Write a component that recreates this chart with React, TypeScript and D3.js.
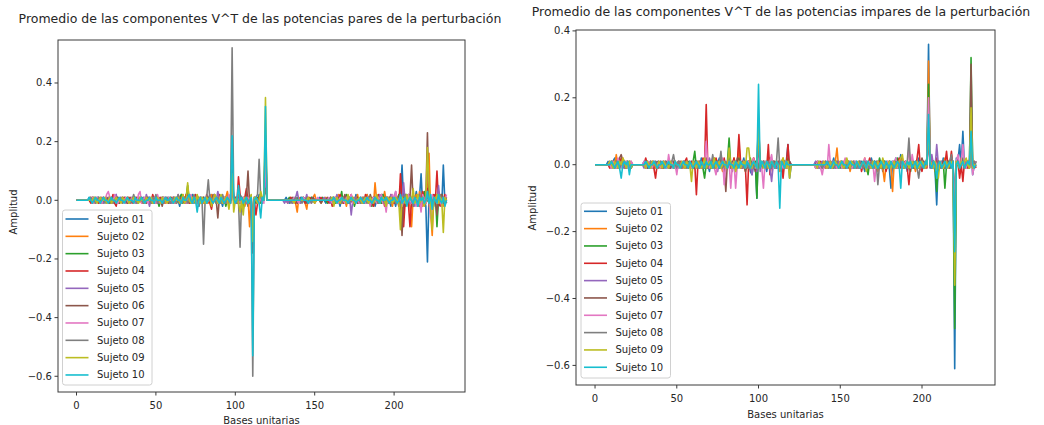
import React from "react";
import * as d3 from "d3";

// Axis ticks and legend entries
const X_TICKS = [0, 50, 100, 150, 200];
const Y_TICKS = [-0.6, -0.4, -0.2, 0, 0.2, 0.4];
const SUJETOS = ["Sujeto 01", "Sujeto 02", "Sujeto 03", "Sujeto 04", "Sujeto 05", "Sujeto 06", "Sujeto 07", "Sujeto 08", "Sujeto 09", "Sujeto 10"];
const COLORES = ["#1f77b4", "#ff7f0e", "#2ca02c", "#d62728", "#9467bd", "#8c564b", "#e377c2", "#7f7f7f", "#bcbd22", "#17becf"];

// Mean V^T components, in hundredths of amplitude, one value per unit base (0..233)
// Even powers
const PARES_01 = [
  0,0,0,0,0,0,0,0,1,0,-1,1,0,0,1,-1,0,0,1,0,
  0,-1,1,0,0,1,-1,0,0,0,1,0,-1,0,0,1,0,0,-1,1,
  0,0,1,-1,0,0,1,0,0,-1,0,1,0,0,-1,1,0,0,1,0,
  -1,0,1,0,0,-2,1,0,1,0,4,-1,0,2,-1,0,1,-2,0,1,
  0,-1,1,0,2,-1,0,1,0,-1,1,0,-2,1,0,1,-1,0,8,1,
  0,1,-1,2,0,-1,1,0,-2,1,0,-10,1,0,-1,2,0,-1,1,12,
  0,0,0,0,0,0,0,0,0,0,0,0,1,0,-1,0,0,1,0,-1,
  0,1,0,0,-1,1,0,0,1,0,0,0,0,1,0,0,0,-1,0,0,
  1,0,-1,0,1,0,-2,1,0,0,1,-1,0,1,0,-1,2,0,-1,0,
  1,0,-1,2,0,-1,0,1,-2,0,1,0,-1,2,0,-1,1,0,-2,1,
  0,-2,1,0,2,12,-1,0,2,-1,0,1,-2,0,3,-1,1,9,-2,1,
  -2,-21,2,0,-3,1,2,-1,3,0,-2,12,-1,0,
];
const PARES_02 = [
  0,0,0,0,0,0,0,0,0,1,0,-1,1,0,0,-1,1,0,0,-1,
  1,0,0,-1,1,0,0,-1,0,1,0,0,-1,1,0,0,-1,0,1,0,
  0,-1,0,1,0,0,-1,1,0,0,1,-1,0,0,1,0,-1,0,0,1,
  0,1,-1,0,1,0,-1,2,0,-1,2,0,1,-1,0,1,0,-1,1,0,
  -1,0,1,-1,0,2,-1,0,1,0,-1,1,0,-1,1,3,0,-1,5,1,
  -1,0,2,-1,0,1,-2,0,1,-9,1,-15,0,1,-1,0,2,0,1,20,
  0,0,0,0,0,0,0,0,0,0,0,0,0,-1,0,1,0,0,-1,-4,
  1,0,0,1,-1,-3,1,0,0,1,2,0,0,0,-1,0,0,1,0,0,
  0,-1,1,0,-1,2,0,-1,1,0,-2,1,0,0,1,-1,0,2,-1,0,
  1,-1,0,2,-1,0,1,-2,6,0,-1,1,0,-1,3,0,-1,1,0,-2,
  1,0,-1,2,0,-3,1,2,-1,0,-2,-9,1,0,2,-1,3,0,-2,1,
  0,2,16,-4,-12,1,0,2,-1,0,1,-2,1,0,
];
const PARES_03 = [
  0,0,0,0,0,0,0,0,0,0,1,0,-1,0,1,0,0,-1,0,1,
  0,0,-1,1,0,0,1,-1,0,0,0,1,0,-1,0,0,1,0,0,-1,
  1,0,0,-1,0,1,0,0,-1,1,0,0,-2,0,1,0,0,1,-1,0,
  0,1,0,-1,0,1,2,-1,0,1,5,0,-1,1,0,-1,0,1,0,-1,
  1,0,-1,0,1,-1,0,2,-1,0,1,-1,0,1,-2,0,1,0,10,0,
  -1,1,0,-1,1,-3,0,1,-1,0,1,-8,0,-1,1,0,-1,1,0,18,
  0,0,0,0,0,0,0,0,0,0,0,0,0,0,1,0,-1,0,0,1,
  0,-1,0,1,0,0,-1,0,1,0,0,0,0,0,0,1,0,0,-1,0,
  0,1,0,-1,1,0,0,3,-1,0,2,0,-1,0,1,-2,0,1,0,-1,
  0,1,-1,0,1,0,-2,1,0,-1,1,0,-1,2,0,-1,0,1,-1,0,
  1,-1,0,2,-1,1,0,-2,1,0,1,-1,2,0,-1,1,0,-2,1,3,
  -1,0,2,-1,1,0,2,-9,1,0,2,-1,0,1,
];
const PARES_04 = [
  0,0,0,0,0,0,0,0,0,-1,1,0,0,1,-1,0,0,1,0,0,
  -1,1,0,2,-1,-2,1,0,0,-1,1,0,0,1,0,-1,0,0,1,0,
  0,1,-1,0,0,1,0,-1,2,0,-1,0,0,1,0,-1,1,0,0,-1,
  1,0,-1,1,0,-1,1,0,-1,2,1,-1,0,1,0,2,-1,0,1,0,
  0,-1,2,0,-1,-3,0,1,0,-1,2,0,-1,0,1,0,-1,1,6,0,
  1,-1,8,2,0,-1,1,4,0,1,-4,-12,0,-5,-1,1,0,1,0,15,
  0,0,0,0,0,0,0,0,0,0,0,0,0,0,0,1,0,0,-1,0,
  0,0,1,0,-1,0,0,1,0,0,-1,0,0,0,1,0,0,0,0,-1,
  1,-2,0,1,0,-1,2,0,-1,0,1,-1,0,2,-1,0,0,1,-1,0,
  0,-1,2,0,-1,1,0,-2,1,0,2,-1,0,1,-2,0,1,-1,2,0,
  -1,1,0,-2,9,1,-9,0,1,-1,-9,0,2,-1,0,1,-2,0,3,-1,
  1,4,-1,0,-3,2,0,10,-1,-2,1,0,2,-1,
];
const PARES_05 = [
  0,0,0,0,0,0,0,0,0,1,0,0,-1,1,0,0,1,-1,0,0,
  1,0,-1,0,1,2,-1,0,1,0,0,-1,1,0,0,1,0,-1,0,1,
  0,0,1,-1,2,0,-2,1,0,0,1,0,-1,0,1,-1,0,1,0,0,
  -1,1,0,0,1,-1,0,1,0,-1,0,1,-1,0,1,0,0,-1,1,0,
  0,1,-1,0,1,0,-1,1,0,3,0,-1,1,0,-1,1,0,0,4,1,
  0,-1,1,0,-1,1,0,-1,1,0,1,-6,0,1,-1,0,1,-1,0,10,
  0,0,0,0,0,0,0,0,0,0,0,-1,0,-1,0,0,-1,0,1,3,
  0,-1,0,1,0,2,-1,0,0,1,0,0,0,0,0,0,1,0,0,0,
  -1,0,1,0,2,0,-1,0,1,-1,0,0,1,-5,0,1,0,-1,0,1,
  0,1,-1,0,1,0,-1,1,0,0,-1,2,0,-1,0,1,0,-1,2,0,
  1,3,-1,0,1,0,6,-1,0,2,-1,0,1,-2,0,1,2,-1,0,1,
  -1,2,0,-1,1,0,1,-1,5,-1,0,1,-1,0,
];
const PARES_06 = [
  0,0,0,0,0,0,0,0,0,0,-1,1,0,0,0,1,-1,0,0,1,
  0,-1,0,1,0,0,1,-1,0,1,0,0,-1,0,1,0,0,1,-1,0,
  0,1,0,0,-1,1,0,0,1,-1,0,0,1,0,-2,1,0,0,-1,1,
  0,-1,1,0,0,1,-1,0,1,-1,2,0,-1,0,1,0,-1,1,0,-1,
  1,0,-1,1,0,-1,2,0,0,-6,1,0,1,-1,0,0,1,-1,12,0,
  1,0,-1,2,0,-1,0,1,10,-1,0,-18,1,0,-1,1,0,0,1,22,
  0,0,0,0,0,0,0,0,0,0,0,0,0,0,0,0,1,0,0,-1,
  0,0,1,0,0,-1,0,0,0,1,0,0,0,0,-1,0,0,0,1,0,
  0,-1,1,0,0,1,-1,0,0,2,-1,0,1,0,-1,0,1,-1,0,1,
  -1,0,1,0,-1,2,0,-1,0,1,-1,0,2,-1,0,1,-1,0,1,0,
  0,1,-1,0,2,-12,1,0,-1,2,1,12,-1,0,1,-2,0,1,-1,0,
  1,23,-2,0,1,-1,0,-5,1,0,2,-1,0,1,
];
const PARES_07 = [
  0,0,0,0,0,0,0,0,0,0,1,-1,0,1,0,0,-1,1,0,2,
  3,1,0,-1,2,0,-1,0,1,0,0,1,0,-1,0,1,0,0,-1,2,
  3,-1,0,1,0,-1,1,0,0,1,-1,2,0,-1,0,1,0,-1,1,0,
  0,1,-1,0,2,0,-1,1,0,-1,1,0,2,-1,0,1,-1,0,1,-1,
  0,1,-1,0,1,0,-1,2,0,-1,1,0,-1,1,0,-1,2,0,7,0,
  -1,1,0,-1,0,1,-1,0,1,0,-1,-9,0,1,0,-1,1,0,-1,16,
  0,0,0,0,0,0,0,0,0,0,0,0,0,0,0,0,0,1,0,0,
  -1,0,0,1,0,0,0,-1,0,0,0,0,1,0,0,0,0,0,0,1,
  0,-1,0,1,0,-1,1,0,0,-1,1,0,0,2,-1,0,1,0,-1,1,
  0,0,-1,1,0,-2,0,1,0,-1,1,0,2,-1,0,-4,1,0,-1,2,
  0,3,-1,0,1,-2,0,1,-1,2,0,-1,1,0,-2,1,0,-4,2,0,
  -1,1,0,-6,2,0,1,-1,2,0,-2,1,0,2,
];
const PARES_08 = [
  0,0,0,0,0,0,0,0,0,1,0,0,-1,0,1,0,0,1,-1,0,
  0,1,0,-1,0,1,0,0,1,-1,0,0,1,0,-1,0,2,0,-1,0,
  1,0,-1,0,1,0,0,-1,1,0,2,-1,0,0,1,-1,0,1,0,-1,
  0,1,0,-1,2,0,-1,0,1,0,-1,1,0,-1,2,0,1,-2,0,1,
  -15,0,1,7,0,-1,1,0,-1,1,0,-1,2,0,-1,1,0,0,52,1,
  0,-1,0,-16,1,0,-1,1,0,-1,1,-60,0,1,2,14,1,0,1,4,
  0,0,0,0,0,0,0,0,0,0,0,0,0,0,0,-1,0,0,1,0,
  0,0,-1,0,0,1,0,0,-1,0,0,0,0,0,0,0,0,0,0,0,
  1,0,-1,0,1,0,0,-1,1,0,-1,0,1,0,0,-1,1,0,0,-1,
  0,1,0,-1,0,1,-1,0,1,0,-1,0,1,0,-1,1,0,0,-1,1,
  0,-1,1,0,-2,1,0,2,-1,0,1,0,-2,1,0,-1,2,0,1,-1,
  0,2,-1,1,0,-2,1,0,-1,2,0,1,-1,0,
];
const PARES_09 = [
  0,0,0,0,0,0,0,0,0,0,0,1,0,-1,0,1,0,0,1,-1,
  0,1,-1,0,0,1,0,0,-1,1,0,0,1,-1,0,0,1,0,0,-1,
  1,0,0,-1,1,0,0,1,-1,0,0,1,0,-1,1,0,0,-1,0,1,
  0,-1,1,0,1,-1,0,2,-1,0,6,0,-1,1,0,-1,2,0,-1,1,
  0,-1,1,0,1,-2,0,2,1,-1,0,2,-1,0,1,0,-3,1,9,-4,
  0,1,-1,-4,0,-5,1,0,-1,0,2,-14,1,0,-1,0,3,1,0,35,
  0,0,0,0,0,0,0,0,0,0,0,0,0,0,0,0,0,-1,0,0,
  0,0,0,0,0,0,1,0,0,0,-1,0,0,0,0,0,0,0,0,0,
  0,1,-2,0,1,0,-1,1,0,0,-1,2,0,0,1,-1,0,0,1,0,
  -1,0,1,0,-1,1,0,-1,0,2,0,-1,0,1,0,-2,1,0,1,-1,
  0,1,0,-1,-10,1,0,-1,2,0,1,0,4,-1,0,2,-1,0,1,-2,
  0,18,5,-3,-10,1,0,2,-1,1,0,-11,1,0,
];
const PARES_10 = [
  0,0,0,0,0,0,0,0,1,0,-1,0,1,0,0,-1,0,1,0,0,
  -1,0,1,0,0,-1,0,1,0,0,-1,0,1,0,0,0,-1,1,0,0,
  0,1,0,-1,0,0,1,0,0,-1,1,0,0,0,-1,0,1,0,0,1,
  0,-1,0,1,0,0,-1,1,0,0,1,2,0,-1,1,0,-4,0,1,-1,
  0,1,-1,0,1,0,-1,0,1,0,-1,1,0,-1,0,1,0,-1,22,1,
  -1,0,5,0,1,-1,0,1,-1,0,1,-53,0,1,0,-1,-6,1,0,32,
  0,0,0,0,0,0,0,0,0,0,0,0,0,0,0,0,0,0,0,0,
  0,0,1,0,0,0,-1,0,0,0,0,0,0,0,0,0,0,0,0,0,
  0,0,1,0,-1,0,0,1,0,0,0,-1,0,1,0,0,-1,0,0,1,
  0,-1,0,1,0,0,-1,0,1,0,0,-1,1,0,0,1,0,-1,0,0,
  1,0,-1,0,2,-1,0,1,-2,0,1,0,-1,1,0,-2,1,0,1,-1,
  0,3,-1,2,-3,1,0,-1,2,0,-1,1,-2,0,
];

// Odd powers
const IMPARES_01 = [
  0,0,0,0,0,0,0,0,1,0,-1,1,2,0,-1,1,0,-1,1,0,
  0,1,-1,0,0,0,0,0,0,0,1,0,-1,0,1,0,-1,0,1,0,
  -1,0,1,0,-1,1,0,0,-1,1,0,0,1,-1,0,1,0,-1,0,1,
  0,-1,1,0,-1,2,0,-1,1,0,-2,1,0,1,-1,0,2,-1,0,1,
  -1,0,2,-1,0,1,-2,0,1,-1,0,2,-1,0,1,-2,-3,0,1,-10,
  8,0,-1,1,0,-2,1,0,-1,1,0,-1,1,0,-2,1,0,1,6,-4,
  0,0,0,0,0,0,0,0,0,0,0,0,0,0,0,1,0,-1,0,1,
  0,-1,1,0,-1,0,2,-1,0,1,0,-1,0,1,-1,0,1,0,-1,0,
  1,0,-1,1,0,-2,1,0,-1,2,0,-1,1,0,-1,1,-2,0,1,0,
  -1,-7,1,0,2,-1,0,3,-1,0,1,-2,0,1,-1,0,1,-1,2,0,
  -1,1,0,2,36,-1,0,1,-2,-12,1,0,-1,2,0,-1,1,0,2,0,
  -61,2,1,6,0,10,-1,0,1,-1,5,-3,0,1,
];
const IMPARES_02 = [
  0,0,0,0,0,0,0,0,0,1,0,1,0,3,-1,0,1,2,0,-1,
  1,0,1,0,0,0,0,0,0,0,0,1,0,-1,0,1,0,-1,0,0,
  1,0,-1,0,1,0,-1,1,0,0,-1,0,1,0,-1,1,0,0,-1,0,
  1,0,-1,1,0,-1,0,2,-1,0,1,-1,0,2,-1,0,1,0,-2,1,
  0,-1,1,0,-1,2,0,-1,6,0,-1,1,-2,0,1,-1,0,2,-1,0,
  5,-1,0,1,-1,0,2,-1,0,1,-1,0,1,-2,0,2,-1,1,0,-1,
  0,0,0,0,0,0,0,0,0,0,0,0,0,0,0,0,1,0,-1,0,
  1,-1,0,1,0,-1,0,1,5,-1,0,1,-1,0,0,1,-2,0,1,0,
  -1,0,1,-1,0,2,-1,0,1,0,-1,1,0,-2,1,0,-1,-5,0,1,
  0,-1,-8,1,0,-1,1,0,2,-1,0,1,0,-1,1,0,-2,1,0,1,
  0,-1,1,0,31,1,-1,0,-2,1,0,1,-1,0,2,-1,0,1,-1,0,
  -20,1,0,-1,2,0,1,-1,0,-1,8,0,-1,0,
];
const IMPARES_03 = [
  0,0,0,0,0,0,0,0,0,0,1,-1,0,1,0,-1,1,0,0,1,
  -1,0,0,0,0,0,0,0,0,0,0,-1,1,0,0,-1,1,0,0,1,
  0,-1,0,1,0,0,-1,1,0,-1,0,1,0,0,1,-1,0,1,0,-1,
  1,4,-1,0,1,0,-1,-4,0,1,0,-1,2,0,-1,1,0,-1,1,0,
  -1,1,8,0,-1,1,0,-1,2,0,-1,0,1,-1,0,2,-1,0,1,-10,
  6,1,-1,0,1,-1,0,2,-1,0,1,-1,0,1,-1,0,1,-1,2,0,
  0,0,0,0,0,0,0,0,0,0,0,0,0,0,0,-1,0,1,0,0,
  0,1,0,-1,1,0,-1,0,1,0,-1,1,0,0,-1,1,0,-1,0,1,
  0,-1,1,0,-1,1,0,-3,1,0,-1,1,0,-1,2,0,-1,1,0,-1,
  1,0,-1,1,0,2,-1,0,1,-1,0,1,0,-2,1,0,-1,1,0,-1,
  1,0,-1,1,24,0,-1,1,-1,-8,1,0,-1,1,-7,0,1,-1,0,1,
  -49,1,0,-1,1,2,-1,0,1,-1,32,-1,0,1,
];
const IMPARES_04 = [
  0,0,0,0,0,0,0,0,0,-1,0,1,0,-1,1,0,2,0,-1,0,
  1,0,-1,0,0,0,0,0,0,0,0,2,0,-1,0,1,-1,-4,0,1,
  0,-1,1,0,0,1,-1,0,1,0,-1,0,1,-1,0,1,2,-1,0,1,
  -1,0,-9,1,0,-1,2,0,18,-1,0,1,-1,0,2,0,-1,1,0,2,
  -1,0,1,-1,0,2,-1,0,9,1,-1,0,-1,-12,1,0,-1,2,0,-1,
  3,0,-1,1,0,-1,6,-3,0,1,-1,0,1,-1,0,-4,1,0,6,-1,
  0,0,0,0,0,0,0,0,0,0,0,0,0,0,0,0,-1,0,1,-1,
  0,1,-1,0,1,-1,0,0,1,-1,0,1,0,-1,1,0,-1,0,1,0,
  -1,0,1,-2,0,1,-1,0,2,-1,0,1,-1,0,1,-1,0,1,-2,0,
  1,-1,0,1,-1,0,2,-1,0,1,0,-1,-6,0,1,0,-1,2,6,-1,
  -2,1,0,-1,10,0,1,-1,0,2,-1,0,1,-1,0,4,-1,0,4,-1,
  -15,0,1,-4,0,-5,1,0,-1,1,4,0,1,-1,
];
const IMPARES_05 = [
  0,0,0,0,0,0,0,0,0,1,-1,0,1,0,-1,0,1,0,-1,1,
  0,-1,1,0,0,0,0,0,0,0,-1,0,1,0,-1,0,1,0,-1,0,
  1,0,-1,1,0,0,1,-1,0,1,0,-1,0,1,0,-1,1,0,0,-1,
  0,1,-1,0,1,0,-1,1,0,-1,2,0,-1,1,0,-2,1,0,-1,1,
  0,-1,1,0,-2,1,0,-1,1,0,-1,1,0,1,-1,0,-3,1,0,-2,
  4,-2,1,0,-1,1,0,-1,-5,0,1,-1,0,1,-1,0,1,-1,0,1,
  0,0,0,0,0,0,0,0,0,0,0,0,0,0,0,1,0,-1,0,1,
  -1,0,1,0,-1,1,0,-1,0,1,0,-1,1,0,-1,0,1,0,-1,1,
  0,-1,1,0,-1,0,1,0,-1,1,0,-1,0,1,0,-1,1,0,-1,0,
  1,0,-1,1,0,-1,1,0,-1,0,1,-1,0,1,0,-1,1,0,-1,1,
  0,-1,0,1,8,-1,3,0,-1,6,0,-1,1,0,-1,1,0,-1,1,0,
  -10,0,1,-1,1,0,-1,1,0,0,3,-1,0,0,
];
const IMPARES_06 = [
  0,0,0,0,0,0,0,0,0,0,1,0,-1,1,0,2,3,1,0,-1,
  0,1,0,0,0,0,0,0,0,0,0,1,-1,0,1,-1,0,1,0,-1,
  0,1,-1,0,1,0,-1,0,1,-1,0,1,0,-1,1,0,-1,0,1,0,
  -1,0,1,-1,0,1,0,-1,2,0,-1,1,0,-1,1,0,-1,2,0,-1,
  -8,1,0,-1,1,0,-1,2,0,-1,1,0,-2,1,0,-1,1,0,-2,1,
  12,1,-1,0,1,-1,0,1,-1,0,1,0,-1,1,0,-1,1,0,-1,1,
  0,0,0,0,0,0,0,0,0,0,0,0,0,0,0,0,1,0,-1,0,
  1,0,-1,1,0,-1,0,1,-1,0,1,0,-1,0,1,-1,0,1,0,-1,
  0,1,-1,0,1,-1,0,1,0,-1,1,0,-1,1,0,-1,0,1,-1,0,
  1,0,-1,1,0,-1,1,0,-1,0,1,0,-1,1,0,-1,0,1,-1,0,
  2,0,-1,1,12,0,-1,1,-1,0,1,-1,0,1,-1,0,1,-1,0,1,
  -18,0,1,-1,0,1,-1,0,1,-1,30,-1,0,1,
];
const IMPARES_07 = [
  0,0,0,0,0,0,0,0,0,0,-1,1,0,-1,2,0,-1,1,0,1,
  -1,0,1,0,0,0,0,0,0,0,1,-1,0,1,0,-1,1,0,0,1,
  -1,0,1,0,-1,3,0,1,-1,0,-3,1,0,-1,1,0,-1,0,1,-1,
  1,0,-1,0,1,-1,0,1,7,0,-1,1,0,-1,-3,0,1,-1,2,-6,
  1,0,1,-7,0,1,-7,0,1,-1,0,1,-1,0,1,-1,0,2,-1,0,
  2,0,-1,-7,1,0,-1,1,3,-1,0,1,-1,0,1,-1,0,1,-1,0,
  0,0,0,0,0,0,0,0,0,0,0,0,0,0,0,-1,1,0,-1,-3,
  0,1,-1,6,0,-1,1,0,-1,0,1,-1,0,2,-1,0,1,-1,0,1,
  -1,0,1,-1,0,2,-1,0,1,-1,0,-5,0,1,-1,0,1,0,-1,1,
  0,-1,1,0,2,-1,0,1,-1,0,1,0,5,-1,3,0,-1,1,0,-1,
  1,0,-1,1,20,1,0,-1,1,0,-1,1,0,-1,1,0,-1,1,0,-1,
  -12,1,3,0,1,6,0,-1,1,0,6,-3,0,1,
];
const IMPARES_08 = [
  0,0,0,0,0,0,0,0,0,0,1,0,-1,0,1,-1,0,1,0,-1,
  1,0,-1,0,0,0,0,0,0,0,0,1,0,-1,1,0,0,1,-1,0,
  1,0,-1,1,0,-1,0,1,3,0,-1,1,0,-1,0,1,-1,0,1,0,
  -1,1,0,-1,1,0,-1,1,0,-1,1,0,3,-1,0,1,0,4,-1,0,
  1,-1,0,1,-1,0,1,-1,0,1,0,-1,1,0,-1,1,0,-1,0,1,
  5,-1,0,1,0,-1,1,0,-1,1,0,1,8,-1,0,1,-1,0,1,-1,
  0,0,0,0,0,0,0,0,0,0,0,0,0,0,0,0,0,1,0,-1,
  0,1,0,-1,1,0,-1,0,1,-1,0,1,0,-1,0,1,-1,0,1,0,
  -1,0,1,0,-1,1,0,-1,0,1,-1,0,1,-6,0,1,-1,0,1,-1,
  0,1,-1,0,1,0,-1,1,0,-1,0,1,8,0,-1,1,0,-1,-4,0,
  1,-1,0,1,9,0,-1,1,0,-1,1,0,-1,0,1,-1,0,1,3,0,
  -22,0,1,-1,0,1,-1,0,1,0,5,-1,1,0,
];
const IMPARES_09 = [
  0,0,0,0,0,0,0,0,0,1,0,-1,1,0,-1,1,0,2,1,-1,
  0,1,-1,0,0,0,0,0,0,0,0,-1,1,0,-1,1,0,0,-1,1,
  0,-1,1,0,0,-1,1,0,-1,1,0,0,-1,1,0,-1,1,0,0,-5,
  1,0,-1,1,0,-1,0,2,-1,0,1,-1,0,2,-1,0,1,-1,0,1,
  -1,0,5,0,-1,1,-2,0,1,-1,0,1,-1,5,5,0,-1,1,0,-1,
  12,0,1,-1,0,1,-1,0,1,0,-1,1,0,-1,1,2,0,-1,1,-4,
  0,0,0,0,0,0,0,0,0,0,0,0,0,0,0,0,-1,1,0,0,
  1,0,-1,0,1,-1,0,1,0,-1,1,0,-1,0,2,0,-1,1,0,-1,
  0,1,-1,0,1,0,-2,1,0,-1,1,0,-1,1,0,-1,2,0,-1,0,
  1,-1,0,1,-1,0,1,2,3,-1,0,1,-1,0,1,0,-1,1,-1,0,
  1,0,-1,0,11,1,0,-1,1,-1,-4,1,0,-1,0,1,-1,0,1,0,
  -36,1,0,-1,1,0,1,2,0,-1,17,-1,0,0,
];
const IMPARES_10 = [
  0,0,0,0,0,0,0,0,0,0,1,0,-1,0,1,-1,-4,0,1,0,
  1,-3,0,0,0,0,0,0,0,0,0,1,0,-1,0,0,1,0,-1,0,
  0,1,0,-1,0,1,0,0,-1,1,0,0,-1,0,1,0,0,-1,1,0,
  -1,0,1,0,-1,1,0,-1,1,0,0,1,-1,0,1,0,-1,0,1,0,
  0,-1,1,0,0,-1,1,0,-1,1,0,0,-1,1,0,-1,0,1,0,-1,
  24,-1,1,0,-1,1,0,-1,1,0,-1,1,0,-13,1,0,-1,1,0,0,
  0,0,0,0,0,0,0,0,0,0,0,0,0,0,0,0,0,0,0,0,
  0,0,1,0,-1,0,1,0,0,-1,0,1,0,0,-1,0,1,0,0,-1,
  1,0,-1,0,1,0,-1,1,0,0,-1,1,0,-1,0,1,0,-1,1,0,
  -1,1,0,-1,0,1,0,-7,1,0,-1,1,0,1,-1,0,1,-1,0,1,
  0,-1,1,0,15,0,-1,1,0,-4,0,1,-1,0,1,-1,0,1,-1,1,
  -26,0,1,-1,0,1,-1,0,1,0,10,0,-1,0,
];

const PARES = [PARES_01, PARES_02, PARES_03, PARES_04, PARES_05, PARES_06, PARES_07, PARES_08, PARES_09, PARES_10];
const IMPARES = [IMPARES_01, IMPARES_02, IMPARES_03, IMPARES_04, IMPARES_05, IMPARES_06, IMPARES_07, IMPARES_08, IMPARES_09, IMPARES_10];

const FONT = "'DejaVu Sans', sans-serif";
const INK = "#262626";

type Box = { x: number; y: number; w: number; h: number; first: number; step: number };
type PanelSpec = {
  title: string;
  titleX: number;
  titleY: number;
  left: number;
  right: number;
  top: number;
  bottom: number;
  yDomain: [number, number];
  xTickY: number;
  xLabelY: number;
  yLabelX: number;
  yLabelY: number;
  legend: Box;
  data: number[][];
};

const fmt = (v: number) => {
  const s = Math.abs(v).toFixed(1);
  return v < -1e-9 ? "\u2212" + s : s;
};

function Panel({ p }: { p: PanelSpec }) {
  const x = d3.scaleLinear().domain([-11.65, 244.65]).range([p.left, p.right]);
  const y = d3.scaleLinear().domain(p.yDomain).range([p.bottom, p.top]);
  const line = d3
    .line<number>()
    .x((_, i) => x(i))
    .y((v) => y(v / 100));
  const clipId = `clip-${p.left}`;
  const lg = p.legend;
  return (
    <g>
      <defs>
        <clipPath id={clipId}>
          <rect x={p.left} y={p.top} width={p.right - p.left} height={p.bottom - p.top} />
        </clipPath>
      </defs>
      <text x={p.titleX} y={p.titleY} textAnchor="middle" fontSize={12.5} fontFamily={FONT} fill={INK}>
        {p.title}
      </text>
      <g clipPath={`url(#${clipId})`}>
        {p.data.map((s, k) => (
          <path
            key={k}
            d={line(s) ?? ""}
            fill="none"
            stroke={COLORES[k]}
            strokeWidth={1.6}
            strokeLinejoin="round"
          />
        ))}
      </g>
      <rect
        x={p.left}
        y={p.top}
        width={p.right - p.left}
        height={p.bottom - p.top}
        fill="none"
        stroke="#3a3a3a"
        strokeWidth={1}
      />
      {X_TICKS.map((t) => (
        <g key={t}>
          <line x1={x(t)} x2={x(t)} y1={p.bottom} y2={p.bottom + 3.5} stroke="#3a3a3a" strokeWidth={1} />
          <text x={x(t)} y={p.xTickY} textAnchor="middle" fontSize={10} fontFamily={FONT} fill={INK}>
            {t}
          </text>
        </g>
      ))}
      {Y_TICKS.map((t) => (
        <g key={t}>
          <line x1={p.left - 3.5} x2={p.left} y1={y(t)} y2={y(t)} stroke="#3a3a3a" strokeWidth={1} />
          <text
            x={p.left - 6}
            y={y(t)}
            dy="0.35em"
            textAnchor="end"
            fontSize={10}
            fontFamily={FONT}
            fill={INK}
          >
            {fmt(t)}
          </text>
        </g>
      ))}
      <text x={(p.left + p.right) / 2} y={p.xLabelY} textAnchor="middle" fontSize={10} fontFamily={FONT} fill={INK}>
        Bases unitarias
      </text>
      <text
        transform={`translate(${p.yLabelX},${p.yLabelY}) rotate(-90)`}
        dy="0.35em"
        textAnchor="middle"
        fontSize={10}
        fontFamily={FONT}
        fill={INK}
      >
        Amplitud
      </text>
      <g>
        <rect x={lg.x} y={lg.y} width={lg.w} height={lg.h} rx={2.5} fill="#ffffff" fillOpacity={0.8} stroke="#d0d0d0" strokeWidth={1} />
        {SUJETOS.map((name, k) => {
          const cy = lg.first + k * lg.step;
          return (
            <g key={name}>
              <line x1={lg.x + 3} x2={lg.x + 26} y1={cy} y2={cy} stroke={COLORES[k]} strokeWidth={1.6} />
              <text x={lg.x + 34.5} y={cy} dy="0.35em" fontSize={10} fontFamily={FONT} fill={INK}>
                {name}
              </text>
            </g>
          );
        })}
      </g>
    </g>
  );
}

const PANELES: PanelSpec[] = [
  {
    title: "Promedio de las componentes V^T de las potencias pares de la perturbación",
    titleX: 260,
    titleY: 23,
    left: 58,
    right: 465,
    top: 40,
    bottom: 392,
    yDomain: [-0.6536, 0.5466],
    xTickY: 408.5,
    xLabelY: 424,
    yLabelX: 13,
    yLabelY: 212,
    legend: { x: 62.5, y: 210, w: 89.5, h: 175, first: 219, step: 17.33 },
    data: PARES,
  },
  {
    title: "Promedio de las componentes V^T de las potencias impares de la perturbación",
    titleX: 781,
    titleY: 16,
    left: 576,
    right: 995,
    top: 30,
    bottom: 385,
    yDomain: [-0.6586, 0.4027],
    xTickY: 401.5,
    xLabelY: 418,
    yLabelX: 532,
    yLabelY: 208,
    legend: { x: 581, y: 203, w: 89.5, h: 175, first: 211.3, step: 17.33 },
    data: IMPARES,
  },
];

export default function App() {
  return (
    <svg
      width={1044}
      height={425}
      viewBox="0 0 1044 425"
      style={{ position: "fixed", left: 0, top: 0, background: "#fff" }}
    >
      <rect width={1044} height={425} fill="#fff" />
      {PANELES.map((p) => (
        <Panel key={p.left} p={p} />
      ))}
    </svg>
  );
}
